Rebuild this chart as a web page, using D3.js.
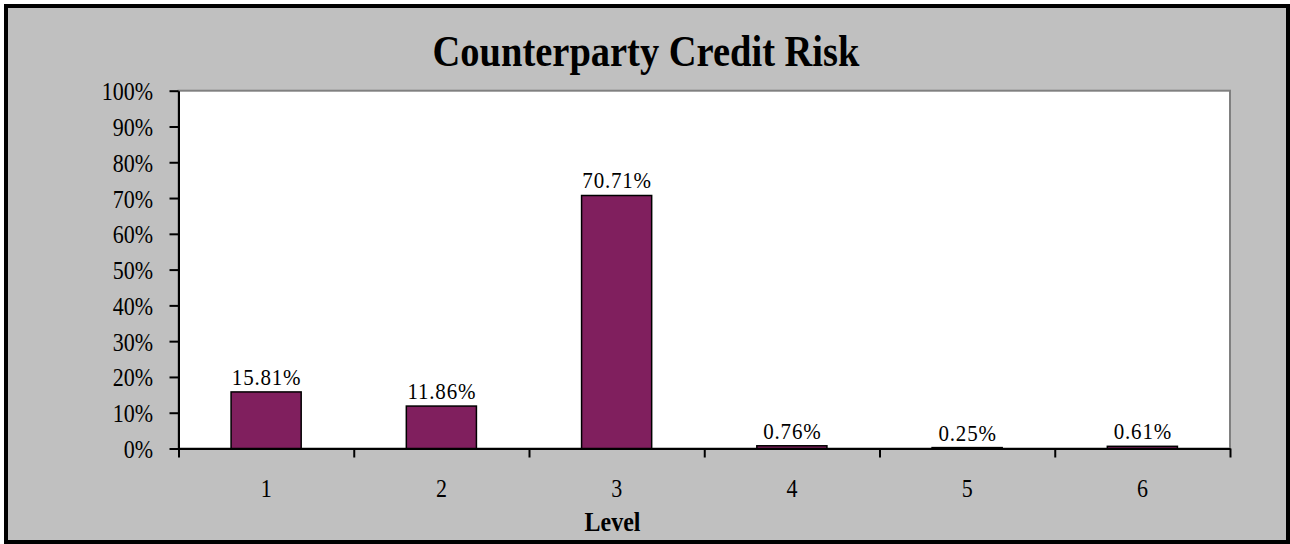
<!DOCTYPE html>
<html>
<head>
<meta charset="utf-8">
<script src="https://cdn.jsdelivr.net/npm/d3@7"></script>
<style>
  html, body { margin: 0; padding: 0; background: #fff; }
  svg { display: block; }
  text { font-family: "Liberation Serif", "Times New Roman", serif; fill: #000; }
</style>
</head>
<body>
<svg id="chart" width="1290" height="544"></svg>
<script>
const title = "Counterparty Credit Risk";
const xAxisTitle = "Level";
const categories = ["1", "2", "3", "4", "5", "6"];
const values = [0.1581, 0.1186, 0.7071, 0.0076, 0.0025, 0.0061];
const valueLabels = ["15.81%", "11.86%", "70.71%", "0.76%", "0.25%", "0.61%"];
const yTicks = [0, 0.1, 0.2, 0.3, 0.4, 0.5, 0.6, 0.7, 0.8, 0.9, 1.0];

const W = 1290, H = 544;
const plot = { left: 178.5, right: 1230, top: 90.7, bottom: 448.5 };
const barColor = "#801F5E";
const stretch = 1.15;

const svg = d3.select("#chart");

// background + outer border
svg.append("rect").attr("x", 0).attr("y", 0).attr("width", W).attr("height", H).attr("fill", "#fff");
svg.append("rect").attr("x", 6).attr("y", 6).attr("width", W - 8).attr("height", H - 8)
  .attr("fill", "#C0C0C0").attr("stroke", "#000").attr("stroke-width", 4);

// plot area
svg.append("rect")
  .attr("x", plot.left).attr("y", plot.top)
  .attr("width", plot.right - plot.left).attr("height", plot.bottom - plot.top)
  .attr("fill", "#fff").attr("stroke", "#808080").attr("stroke-width", 2);

const x = d3.scaleBand().domain(categories).range([plot.left, plot.right])
  .paddingInner(0.6).paddingOuter(0.3);
const xEdges = d3.scaleLinear().domain([0, categories.length]).range([plot.left, plot.right]);
const y = d3.scaleLinear().domain([0, 1]).range([plot.bottom, plot.top]);

// bars
svg.append("g").selectAll("rect").data(values).join("rect")
  .attr("x", (d, i) => x(categories[i]))
  .attr("y", d => y(d))
  .attr("width", x.bandwidth())
  .attr("height", d => Math.max(0, y(0) - y(d)))
  .attr("fill", barColor)
  .attr("stroke", "#000")
  .attr("stroke-width", 1.5);

// axes
const yAxis = d3.axisLeft(y).tickValues(yTicks).tickFormat("").tickSize(9).tickSizeOuter(0);
const gy = svg.append("g").attr("transform", `translate(${plot.left},0)`).call(yAxis);
const xAxis = d3.axisBottom(xEdges).tickValues(d3.range(categories.length + 1)).tickFormat("").tickSize(9).tickSizeOuter(0);
const gx = svg.append("g").attr("transform", `translate(0,${plot.bottom})`).call(xAxis);
[gx, gy].forEach(g => {
  g.selectAll("path.domain").attr("stroke", "#000").attr("stroke-width", 2);
  g.selectAll(".tick line").attr("stroke", "#000").attr("stroke-width", 2);
});

function stretchedText(parent, tx, ty, str, opts) {
  const t = parent.append("text")
    .attr("transform", `translate(${tx},${ty}) scale(1,${opts.sy || stretch})`)
    .attr("text-anchor", opts.anchor || "middle")
    .style("font-size", opts.size + "px")
    .style("font-weight", opts.bold ? "bold" : "normal")
    .text(str);
  if (opts.ls) t.style("letter-spacing", opts.ls + "px");
  return t;
}

// y tick labels
const gyl = svg.append("g");
yTicks.forEach(v => {
  stretchedText(gyl, 153, y(v) + 9.5, d3.format(".0%")(v), { size: 22, anchor: "end" });
});

// x tick labels
const gxl = svg.append("g");
categories.forEach(c => {
  stretchedText(gxl, x(c) + x.bandwidth() / 2, 497, c, { size: 22 });
});

// value labels
const gvl = svg.append("g");
values.forEach((v, i) => {
  stretchedText(gvl, x(categories[i]) + x.bandwidth() / 2 + 0.5, y(v) - 7, valueLabels[i],
    { size: 21, ls: 0.8, sy: 1.08 });
});

// title
stretchedText(svg, 646, 65.5, title, { size: 38.5, bold: true, sy: 1.15 });

// x axis title
stretchedText(svg, 612.5, 530.5, xAxisTitle, { size: 24, bold: true, sy: 1.12 });
</script>
</body>
</html>
